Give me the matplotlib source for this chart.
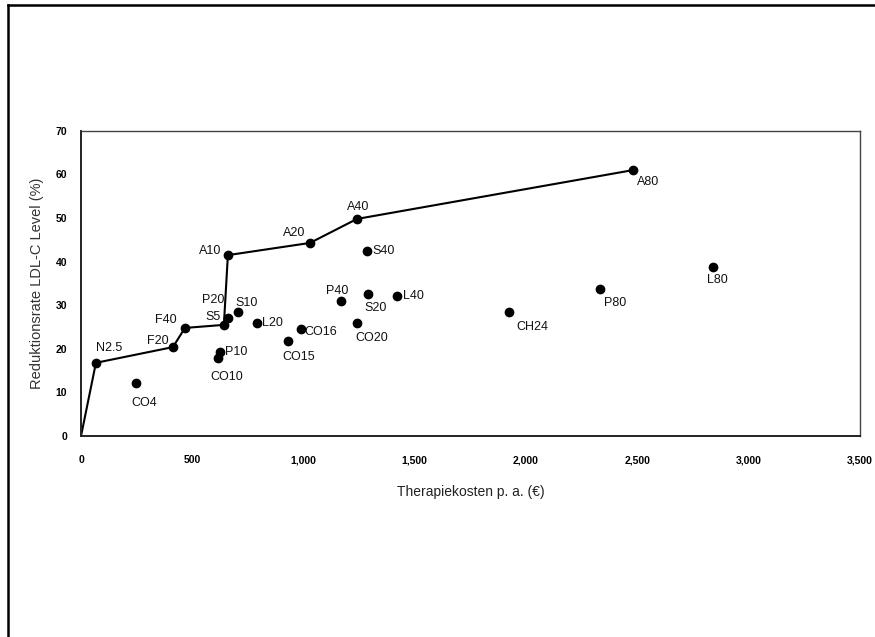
import matplotlib.pyplot as plt
from matplotlib.lines import Line2D
from matplotlib.ticker import FuncFormatter

# statin therapies: annual cost (EUR) vs. LDL-C reduction (%)
labels = ['N2.5', 'F20', 'F40', 'S5', 'P20', 'A10', 'A20', 'A40', 'A80',
          'CO4', 'P10', 'CO10', 'S10', 'L20', 'CO16', 'CO15', 'P40', 'S40',
          'S20', 'CO20', 'L40', 'CH24', 'P80', 'L80']
costs = [67, 413, 467, 642, 660, 660, 1029, 1240, 2480,
         247, 624, 615, 705, 790, 988, 930, 1168, 1285,
         1289, 1240, 1420, 1923, 2331, 2840]
reduction = [16.8, 20.4, 24.8, 25.5, 27.1, 41.5, 44.3, 49.8, 61.0,
             12.2, 19.3, 17.9, 28.5, 25.9, 24.6, 21.8, 31.0, 42.5,
             32.6, 25.9, 32.1, 28.5, 33.7, 38.8]

# efficiency frontier, starting at the origin
frontier = ['N2.5', 'F20', 'F40', 'S5', 'A10', 'A20', 'A40', 'A80']

xticks = [0, 500, 1000, 1500, 2000, 2500, 3000, 3500]
yticks = [0, 10, 20, 30, 40, 50, 60, 70]

# label placement: offset in pixels (dx, dy with y downward), horizontal align
place = {
    'N2.5': (13, -15, 'center'), 'F20': (-15, -6, 'center'),
    'F40': (-19, -8, 'center'), 'S5': (-11, -8, 'center'),
    'P20': (-15, -18, 'center'), 'A10': (-18, -4, 'center'),
    'A20': (-16, -10, 'center'), 'A40': (1, -12, 'center'),
    'A80': (15, 12, 'center'), 'CO4': (8, 20, 'center'),
    'P10': (5, 0, 'left'), 'CO10': (9, 19, 'center'),
    'S10': (9, -9, 'center'), 'L20': (5, 0, 'left'),
    'CO16': (4, 3, 'left'), 'CO15': (11, 16, 'center'),
    'P40': (-4, -10, 'center'), 'S40': (5, 0, 'left'),
    'S20': (8, 14, 'center'), 'CO20': (15, 15, 'center'),
    'L40': (6, 0, 'left'), 'CH24': (23, 15, 'center'),
    'P80': (15, 14, 'center'), 'L80': (4, 13, 'center'),
}

plt.rcParams['font.family'] = ['Liberation Sans', 'DejaVu Sans']

fig = plt.figure(figsize=(8.75, 6.37), dpi=100)
ax = fig.add_axes([0.0926, 0.3155, 0.890, 0.479])

# outer frame (left and top edges only)
fig.add_artist(Line2D([0.0097, 0.0097], [0.0, 0.992], transform=fig.transFigure,
                      color='black', lw=1.8))
fig.add_artist(Line2D([0.0097, 1.0], [0.992, 0.992], transform=fig.transFigure,
                      color='black', lw=1.8))

idx = {name: i for i, name in enumerate(labels)}
fx = [0] + [costs[idx[n]] for n in frontier]
fy = [0] + [reduction[idx[n]] for n in frontier]
ax.plot(fx, fy, color='black', lw=1.5, zorder=2)

ax.scatter(costs, reduction, s=36, color='black', zorder=3)

for name, x, y in zip(labels, costs, reduction):
    dx, dy, ha = place[name]
    ax.annotate(name, (x, y), xytext=(dx * 0.72, -dy * 0.72),
                textcoords='offset points', ha=ha, va='center',
                fontsize=9, color='#111111')

ax.set_xlim(0, 3500)
ax.set_ylim(0, 70)
ax.set_xticks(xticks)
ax.set_yticks(yticks)
ax.xaxis.set_major_formatter(FuncFormatter(lambda v, p: f'{int(v):,}'))
ax.tick_params(length=0, labelsize=7.5)
ax.tick_params(axis='x', pad=14)
ax.tick_params(axis='y', pad=10)
for lab in ax.get_xticklabels() + ax.get_yticklabels():
    lab.set_fontweight('bold')

for side in ['left', 'bottom']:
    ax.spines[side].set_color('#222222')
    ax.spines[side].set_linewidth(1.4)
for side in ['top', 'right']:
    ax.spines[side].set_color('#444444')
    ax.spines[side].set_linewidth(1.0)

ax.set_xlabel('Therapiekosten p. a. (€)', fontsize=10, color='#222222',
              labelpad=14)
ax.set_ylabel('Reduktionsrate LDL-C Level (%)', fontsize=10.5, color='#333333',
              labelpad=8)

fig.savefig('out.png', dpi=100, facecolor='white')
